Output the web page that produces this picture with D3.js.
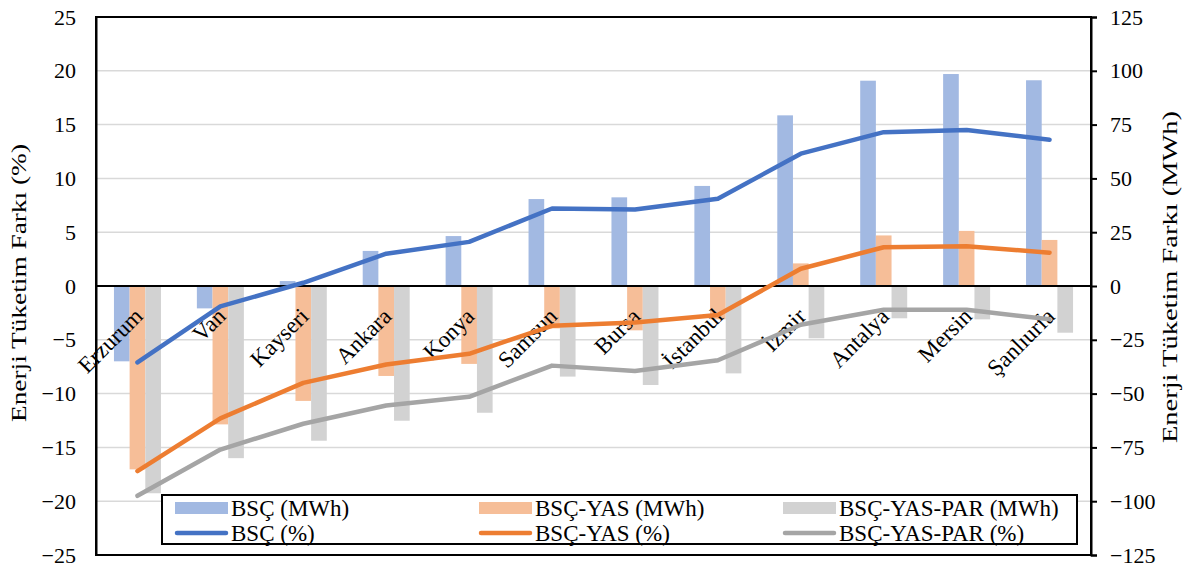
<!DOCTYPE html>
<html>
<head>
<meta charset="utf-8">
<script src="https://cdn.jsdelivr.net/npm/d3@7"></script>
<style>
  html, body { margin: 0; padding: 0; background: #fff; }
  svg text { font-family: "Liberation Serif", "DejaVu Serif", serif; fill: #000; }
</style>
</head>
<body>
<svg id="chart" width="1200" height="570"></svg>
<script>
// Cities along the category axis
const categories = ["Erzurum", "Van", "Kayseri", "Ankara", "Konya", "Samsun", "Bursa", "İstanbul", "İzmir", "Antalya", "Mersin", "Şanlıurfa"];

// Energy consumption difference in MWh (bars, right axis)
const bscMWh       = [-35, -10.4, 2.3, 16.3, 23.2, 40.4, 41.2, 46.5, 79.3, 95.4, 98.5, 95.6];
const bscYasMWh    = [-85.2, -64.3, -53.4, -41.8, -36.2, -19.7, -20.6, -15.5, 10.5, 23.5, 25.6, 21.4];
const bscYasParMWh = [-96.3, -80, -71.9, -62.6, -58.9, -42.1, -46, -40.6, -24.3, -15, -15.5, -21.7];

// Energy consumption difference in percent (lines, left axis)
const bscPct       = [-7.1, -1.9, 0.3, 3.0, 4.1, 7.2, 7.1, 8.1, 12.3, 14.3, 14.5, 13.6];
const bscYasPct    = [-17.2, -12.3, -9.0, -7.3, -6.3, -3.7, -3.4, -2.7, 1.6, 3.6, 3.7, 3.1];
const bscYasParPct = [-19.5, -15.2, -12.8, -11.1, -10.3, -7.4, -7.9, -6.9, -3.6, -2.2, -2.2, -3.1];

// Axis ticks
const leftTicks  = [25, 20, 15, 10, 5, 0, -5, -10, -15, -20, -25];
const rightTicks = [125, 100, 75, 50, 25, 0, -25, -50, -75, -100, -125];

const barSeries = [
  { name: "BSÇ (MWh)",         values: bscMWh,       color: "#A2B9E2" },
  { name: "BSÇ-YAS (MWh)",     values: bscYasMWh,    color: "#F6BE98" },
  { name: "BSÇ-YAS-PAR (MWh)", values: bscYasParMWh, color: "#D2D2D2" }
];
const lineSeries = [
  { name: "BSÇ (%)",         values: bscPct,       color: "#4472C4" },
  { name: "BSÇ-YAS (%)",     values: bscYasPct,    color: "#ED7D31" },
  { name: "BSÇ-YAS-PAR (%)", values: bscYasParPct, color: "#A5A5A5" }
];

const FONT = "'Liberation Serif', 'DejaVu Serif', serif";
const svg = d3.select("#chart");
const plot = { left: 96, right: 1091, top: 17, bottom: 555 };

const x = d3.scaleBand().domain(categories).range([plot.left, plot.right]).padding(0);
const xInner = d3.scaleBand().domain(barSeries.map(s => s.name)).range([-23.5, 23.5]).padding(0);
const yL = d3.scaleLinear().domain([-25, 25]).range([plot.bottom, plot.top]);
const yR = d3.scaleLinear().domain([-125, 125]).range([plot.bottom, plot.top]);
const cx = c => x(c) + x.bandwidth() / 2;

// Horizontal gridlines
svg.append("g")
  .selectAll("line")
  .data(leftTicks.filter(t => t !== 25 && t !== -25 && t !== 0))
  .join("line")
  .attr("x1", plot.left).attr("x2", plot.right)
  .attr("y1", d => yL(d)).attr("y2", d => yL(d))
  .attr("stroke", "#d9d9d9").attr("stroke-width", 1.5);

// Bars
const barG = svg.append("g");
barSeries.forEach(s => {
  barG.append("g")
    .selectAll("rect")
    .data(categories.map((c, i) => ({ c, v: s.values[i] })))
    .join("rect")
    .attr("x", d => cx(d.c) + xInner(s.name))
    .attr("width", xInner.bandwidth())
    .attr("y", d => yR(Math.max(0, d.v)))
    .attr("height", d => Math.abs(yR(d.v) - yR(0)))
    .attr("fill", s.color);
});

// Plot frame and zero line
svg.append("rect")
  .attr("x", plot.left).attr("y", plot.top)
  .attr("width", plot.right - plot.left).attr("height", plot.bottom - plot.top)
  .attr("fill", "none").attr("stroke", "#000").attr("stroke-width", 2);
svg.append("line")
  .attr("x1", plot.left).attr("x2", plot.right)
  .attr("y1", yL(0)).attr("y2", yL(0))
  .attr("stroke", "#000").attr("stroke-width", 2);

// Category labels, rotated just under the zero line
svg.append("g")
  .selectAll("text")
  .data(categories)
  .join("text")
  .attr("transform", d => `translate(${cx(d) + 1},${yL(0) + 26}) rotate(-45)`)
  .attr("text-anchor", "end")
  .attr("dy", "0.35em")
  .attr("font-family", FONT)
  .attr("font-size", 23)
  .text(d => d);

// Lines
const lineGen = d3.line().x((d, i) => cx(categories[i])).y(d => yL(d));
lineSeries.forEach(s => {
  svg.append("path")
    .datum(s.values)
    .attr("d", lineGen)
    .attr("fill", "none")
    .attr("stroke", s.color)
    .attr("stroke-width", 4.5)
    .attr("stroke-linecap", "round")
    .attr("stroke-linejoin", "round");
});

// Left axis
const leftAxis = svg.append("g")
  .attr("transform", `translate(${plot.left},0)`)
  .call(d3.axisLeft(yL).tickValues(leftTicks).tickSize(0).tickPadding(20).tickFormat(d3.format("d")));
leftAxis.attr("font-family", FONT);
leftAxis.select(".domain").attr("stroke", "#000").attr("stroke-width", 2);
leftAxis.selectAll("text").attr("font-size", 22).attr("font-family", FONT).attr("fill", "#000");

// Right axis
const rightAxis = svg.append("g")
  .attr("transform", `translate(${plot.right},0)`)
  .call(d3.axisRight(yR).tickValues(rightTicks).tickSize(6).tickPadding(13).tickFormat(d3.format("d")));
rightAxis.attr("font-family", FONT);
rightAxis.select(".domain").attr("stroke", "#000").attr("stroke-width", 2);
rightAxis.selectAll("line").attr("stroke", "#000").attr("stroke-width", 2);
rightAxis.selectAll("text").attr("font-size", 22).attr("font-family", FONT).attr("fill", "#000");

// Axis titles
svg.append("text")
  .attr("transform", `translate(26,283) rotate(-90)`)
  .attr("text-anchor", "middle")
  .attr("font-family", FONT)
  .attr("font-size", 22)
  .attr("textLength", 278)
  .attr("lengthAdjust", "spacingAndGlyphs")
  .text("Enerji Tüketim Farkı (%)");
svg.append("text")
  .attr("transform", `translate(1177,277) rotate(-90)`)
  .attr("text-anchor", "middle")
  .attr("font-family", FONT)
  .attr("font-size", 22)
  .attr("textLength", 332)
  .attr("lengthAdjust", "spacingAndGlyphs")
  .text("Enerji Tüketim Farkı (MWh)");

// Legend
const legend = svg.append("g");
legend.append("rect")
  .attr("x", 162).attr("y", 495).attr("width", 915).attr("height", 49)
  .attr("fill", "#fff").attr("stroke", "#000").attr("stroke-width", 2);
const colX = [175, 479, 783];
const rowY = [508, 533];
barSeries.forEach((s, i) => {
  legend.append("rect")
    .attr("x", colX[i]).attr("y", rowY[0] - 6).attr("width", 53).attr("height", 12)
    .attr("fill", s.color);
  legend.append("text")
    .attr("x", colX[i] + 56).attr("y", rowY[0]).attr("dy", "0.35em")
    .attr("font-family", FONT)
    .attr("font-size", 23).text(s.name);
});
lineSeries.forEach((s, i) => {
  legend.append("line")
    .attr("x1", colX[i] + 2).attr("x2", colX[i] + 51)
    .attr("y1", rowY[1]).attr("y2", rowY[1])
    .attr("stroke", s.color).attr("stroke-width", 4.5).attr("stroke-linecap", "round");
  legend.append("text")
    .attr("x", colX[i] + 56).attr("y", rowY[1]).attr("dy", "0.35em")
    .attr("font-family", FONT)
    .attr("font-size", 23).text(s.name);
});
</script>
</body>
</html>
